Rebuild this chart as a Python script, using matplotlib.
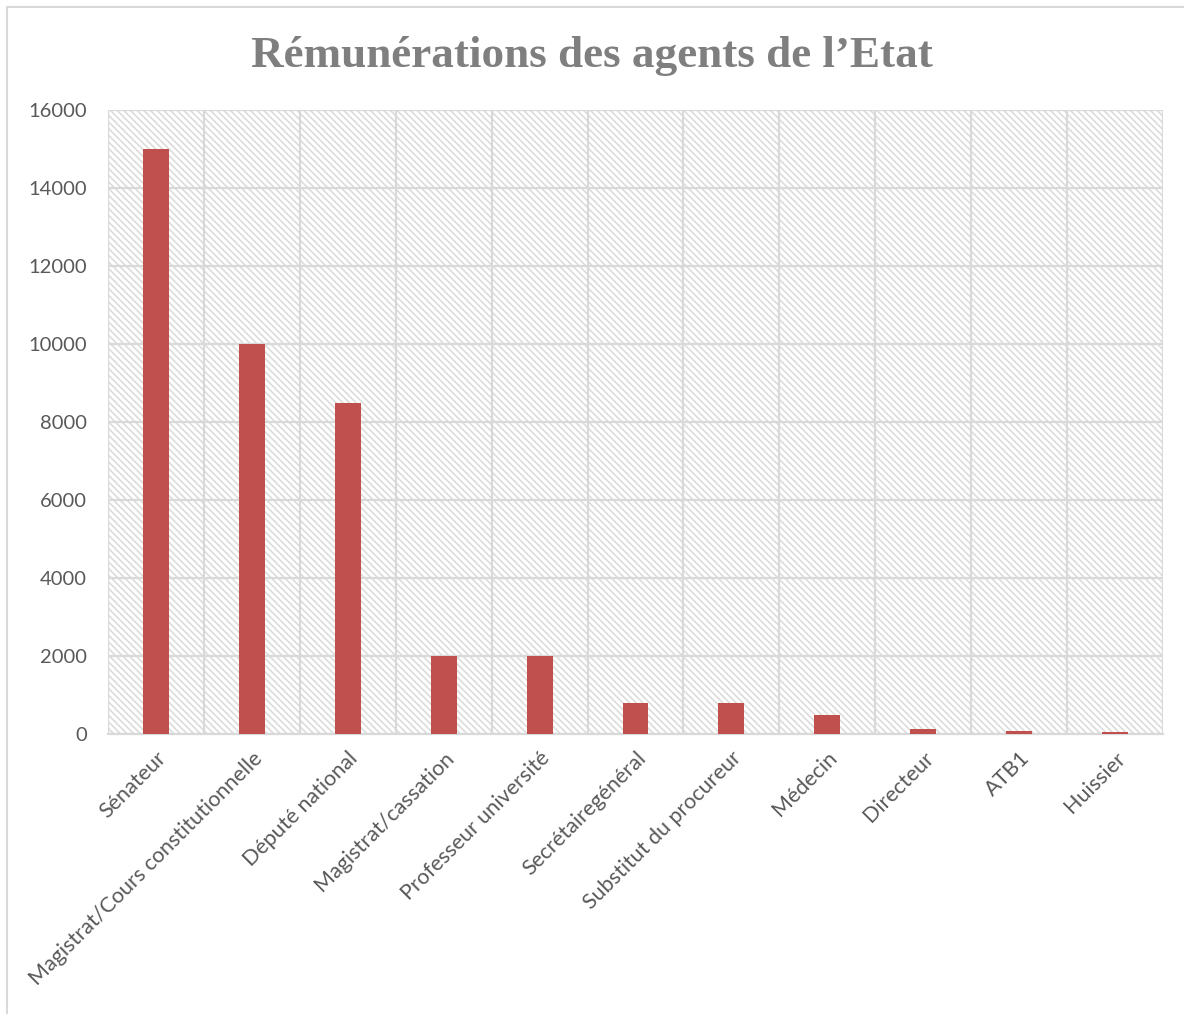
import matplotlib.pyplot as plt
from matplotlib.patches import Rectangle

categories = ['Sénateur', 'Magistrat/Cours constitutionnelle', 'Député national',
              'Magistrat/cassation', 'Professeur université', 'Secrétairegénéral',
              'Substitut du procureur', 'Médecin', 'Directeur', 'ATB1', 'Huissier']
salaries = [15000, 10000, 8500, 2000, 2000, 800, 800, 500, 120, 90, 50]
y_ticks = [0, 2000, 4000, 6000, 8000, 10000, 12000, 14000, 16000]

plt.rcParams['hatch.color'] = '#dcdcdc'
plt.rcParams['hatch.linewidth'] = 1.2
plt.rcParams['font.family'] = ['Lato', 'DejaVu Sans']

fig = plt.figure(figsize=(11.84, 10.14), dpi=100)
ax = fig.add_axes([0.0912, 0.2761, 0.8911, 0.6154])

# hatched background of the plot area
ax.patch.set_facecolor('white')
ax.patch.set_hatch('\\\\\\\\\\')
ax.patch.set_edgecolor('#dcdcdc')
ax.patch.set_linewidth(0)

x = list(range(len(categories)))
ax.bar(x, salaries, width=0.27, color='#c0504d', zorder=3)

ax.set_xlim(-0.5, len(categories) - 0.5)
ax.set_ylim(0, 16000)
ax.set_yticks(y_ticks)
ax.set_yticklabels([str(v) for v in y_ticks])
ax.set_xticks(x)
ax.set_xticklabels(categories, rotation=45, ha='right', rotation_mode='anchor')

# vertical lines between categories + horizontal grid
ax.set_xticks([i + 0.5 for i in range(-1, len(categories))], minor=True)
ax.grid(axis='x', which='minor', color='#d9d9d9', linewidth=1.6, zorder=1)
ax.grid(axis='y', which='major', color='#d9d9d9', linewidth=1.6, zorder=1)
ax.set_axisbelow(True)

for s in ['top', 'right', 'left']:
    ax.spines[s].set_visible(False)
ax.spines['bottom'].set_color('#d9d9d9')
ax.spines['bottom'].set_linewidth(1.6)

ax.tick_params(axis='both', which='both', length=0, labelcolor='#595959')
ax.tick_params(axis='x', pad=10, labelsize=15.5)
ax.tick_params(axis='y', pad=15, labelsize=14.5)

fig.text(0.5, 0.945, 'Rémunérations des agents de l\u2019Etat', ha='center', va='center',
         fontsize=32.5, fontweight='bold', color='#7f7f7f', family='Liberation Serif')

# outer chart border
fig.patches.append(Rectangle((0.006, -0.01), 1.2, 1.003, transform=fig.transFigure,
                             fill=False, edgecolor='#d9d9d9', linewidth=1.5))

fig.savefig('out.png', dpi=100)
